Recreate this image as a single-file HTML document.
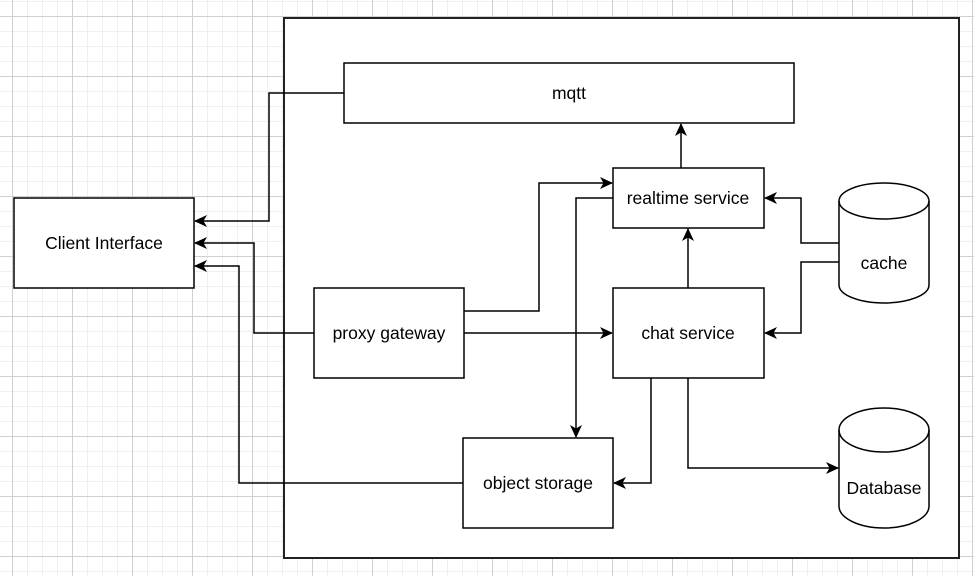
<!DOCTYPE html>
<html><head><meta charset="utf-8"><style>
html,body{margin:0;padding:0;background:#fff}
svg{display:block}
text{font-family:"Liberation Sans",Helvetica,Arial,sans-serif;font-size:17.5px;fill:#000;text-anchor:middle;dominant-baseline:central}
</style></head><body>
<svg width="974" height="576" viewBox="0 0 974 576" xmlns="http://www.w3.org/2000/svg">
<defs>
<pattern id="minor" width="15" height="15" patternUnits="userSpaceOnUse" x="12" y="16">
<path d="M0 0.5H15M0.5 0V15" stroke="#efefef" stroke-width="1" fill="none"/>
</pattern>
<pattern id="major" width="60" height="60" patternUnits="userSpaceOnUse" x="12" y="16">
<path d="M0 0.5H60M0.5 0V60" stroke="#d0d0d0" stroke-width="1" fill="none"/>
</pattern>
<marker id="a" markerWidth="14" markerHeight="14" refX="12" refY="7" orient="auto" markerUnits="userSpaceOnUse">
<path d="M0 1 L13 7 L0 13 L3.5 7 Z" fill="#000"/>
</marker>
</defs>
<rect width="974" height="576" fill="url(#minor)"/>
<rect width="974" height="576" fill="url(#major)"/>
<g stroke="#000" stroke-width="1.5" fill="#fff">
<rect x="284" y="18" width="675" height="540" stroke="#222" stroke-width="2"/>
<rect x="344" y="63" width="450" height="60"/>
<rect x="14" y="198" width="180" height="90"/>
<rect x="613" y="168" width="151" height="60"/>
<rect x="613" y="288" width="151" height="90"/>
<rect x="314" y="288" width="150" height="90"/>
<rect x="463" y="438" width="150" height="90"/>
<path d="M839 201 A45 18 0 0 1 929 201 V285 A45 18 0 0 1 839 285 Z"/>
<path d="M839 201 A45 18 0 0 0 929 201" fill="none"/>
<path d="M839 430 A45 22 0 0 1 929 430 V506 A45 22 0 0 1 839 506 Z"/>
<path d="M839 430 A45 22 0 0 0 929 430" fill="none"/>
</g>
<g stroke="#000" stroke-width="1.5" fill="none" marker-end="url(#a)">
<path d="M344 93 H269 V221 H195"/>
<path d="M314 333 H254 V243 H195"/>
<path d="M463 483 H239 V266 H195"/>
<path d="M464 311 H539 V183 H612"/>
<path d="M464 333 H612"/>
<path d="M613 198 H576 V437"/>
<path d="M681 168 V124"/>
<path d="M688 288 V229"/>
<path d="M839 243 H801 V198 H765"/>
<path d="M839 262 H801 V333 H765"/>
<path d="M651 378 V483 H614"/>
<path d="M688 378 V468 H838"/>
</g>
<text x="569" y="93">mqtt</text>
<text x="104" y="243">Client Interface</text>
<text x="688" y="198">realtime service</text>
<text x="688" y="333">chat service</text>
<text x="389" y="333">proxy gateway</text>
<text x="538" y="483">object storage</text>
<text x="884" y="263">cache</text>
<text x="884" y="488">Database</text>
</svg>
</body></html>
